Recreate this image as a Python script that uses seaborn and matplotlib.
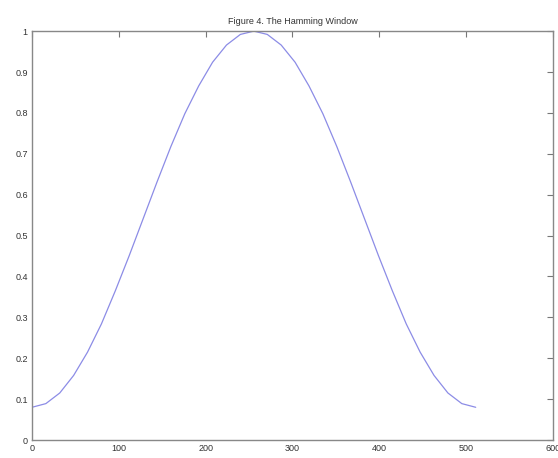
import matplotlib
matplotlib.use("Agg")
import matplotlib.pyplot as plt
import seaborn as sns
import pandas as pd

# Sample index and window value
sample = [0, 16, 32, 48, 64, 80, 96, 112, 128, 144, 160, 176, 192, 208, 224, 240, 255.5,
          271, 287, 303, 319, 335, 351, 367, 383, 399, 415, 431, 447, 463, 479, 495, 511]
value = [0.080, 0.089, 0.115, 0.158, 0.215, 0.284, 0.365, 0.451, 0.541, 0.631, 0.718,
         0.798, 0.866, 0.924, 0.966, 0.992, 1.000,
         0.992, 0.966, 0.924, 0.866, 0.798, 0.718, 0.631, 0.541, 0.451, 0.365, 0.284,
         0.215, 0.158, 0.115, 0.089, 0.080]
x_ticks = [0, 100, 200, 300, 400, 500, 600]
y_ticks = [0, 0.1, 0.2, 0.3, 0.4, 0.5, 0.6, 0.7, 0.8, 0.9, 1]
y_labels = ["0", "0.1", "0.2", "0.3", "0.4", "0.5", "0.6", "0.7", "0.8", "0.9", "1"]
title = "Figure 4. The Hamming Window"

sns.set_style("white")
plt.rcParams['font.family'] = ['Liberation Sans', 'DejaVu Sans']

df = pd.DataFrame({"n": sample, "w": value})

fig = plt.figure(figsize=(5.58, 4.58), dpi=100)
ax = fig.add_axes([0.0573, 0.0393, 0.9337, 0.8927])
sns.lineplot(data=df, x="n", y="w", ax=ax, color="#8c8ce6", linewidth=0.9)

ax.set_xlim(0, 600)
ax.set_ylim(0, 1)
ax.set_xticks(x_ticks)
ax.set_xticklabels([str(t) for t in x_ticks])
ax.set_yticks(y_ticks)
ax.set_yticklabels(y_labels)
ax.set_xlabel("")
ax.set_ylabel("")
ax.tick_params(direction="in", length=4, width=0.8, color="#777777",
               labelsize=6.5, labelcolor="#333333", top=True, right=True,
               pad=3)
for s in ax.spines.values():
    s.set_visible(True)
    s.set_color("#888888")
    s.set_linewidth(1.0)
ax.set_title(title, fontsize=6.5, color="#333333", pad=5)

fig.savefig("out.png", dpi=100)
